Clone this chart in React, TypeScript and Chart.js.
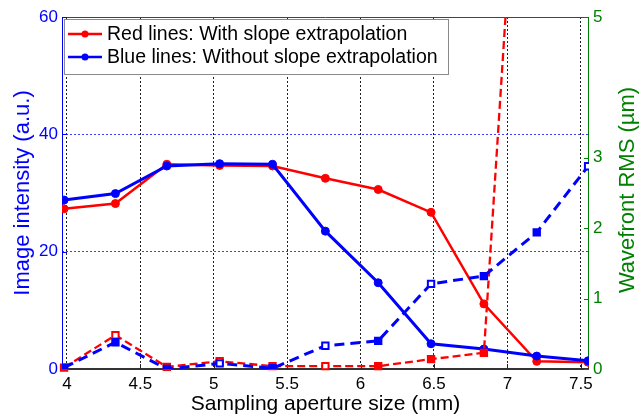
import React, { useEffect, useRef } from "react";
import { Chart, registerables } from "chart.js";

Chart.register(...registerables);

// Sampling aperture size (mm)
const apertureSizes = [3.98, 4.33, 4.68, 5.04, 5.4, 5.76, 6.12, 6.48, 6.84, 7.2, 7.55];
// Image intensity (a.u.) — left axis
const intensityWithSlope = [27.3, 28.2, 34.9, 34.7, 34.6, 32.5, 30.6, 26.7, 11.1, 1.3, 1.15];
const intensityWithoutSlope = [28.8, 29.9, 34.6, 35.0, 34.9, 23.5, 14.7, 4.3, 3.4, 2.2, 1.4];
// Wavefront RMS (µm) — right axis
const rmsWithSlope = [0.02, 0.48, 0.03, 0.11, 0.04, 0.04, 0.04, 0.14, 0.23, 11.9, 13.0];
const rmsWithoutSlope = [0.02, 0.38, 0.0, 0.08, 0.01, 0.33, 0.4, 1.21, 1.32, 1.94, 2.88];

const xTicks = [4, 4.5, 5, 5.5, 6, 6.5, 7, 7.5];
const leftTicks = [0, 20, 40, 60];
const rightTicks = [0, 1, 2, 3, 5];

const legendLabels = [
  "Red lines: With slope extrapolation",
  "Blue lines: Without slope extrapolation",
];

const RED = "#ff0000";
const BLUE = "#0000ff";
const GREEN = "#008000";
const FONT = '"Liberation Sans", Arial, sans-serif';

const toPoints = (ys: number[]) => apertureSizes.map((x, i) => ({ x, y: ys[i] }));

const axesPlugin = {
  id: "axesLines",
  beforeDatasetsDraw(chart: any) {
    const { ctx, chartArea: a, scales } = chart;
    ctx.save();
    ctx.setLineDash([]);
    const L = Math.round(a.left) + 0.5;
    const R = Math.round(a.right) - 0.5;
    const T = Math.round(a.top) + 0.5;
    const B = Math.round(a.bottom);
    // top border
    ctx.strokeStyle = "#444";
    ctx.lineWidth = 1;
    ctx.beginPath();
    ctx.moveTo(L, T);
    ctx.lineTo(R, T);
    ctx.stroke();
    // left axis
    ctx.strokeStyle = BLUE;
    ctx.beginPath();
    ctx.moveTo(L, a.top);
    ctx.lineTo(L, a.bottom);
    ctx.stroke();
    // right axis
    ctx.strokeStyle = GREEN;
    ctx.beginPath();
    ctx.moveTo(R, a.top);
    ctx.lineTo(R, a.bottom + 1);
    ctx.stroke();
    // bottom axis
    ctx.strokeStyle = "#333";
    ctx.lineWidth = 2;
    ctx.beginPath();
    ctx.moveTo(a.left, B);
    ctx.lineTo(a.right, B);
    ctx.stroke();

    // inward tick marks
    const tickLen = 5;
    ctx.lineWidth = 1;
    ctx.strokeStyle = BLUE;
    for (const v of leftTicks) {
      const y = Math.round(scales.y.getPixelForValue(v)) + 0.5;
      ctx.beginPath();
      ctx.moveTo(a.left, y);
      ctx.lineTo(a.left + tickLen, y);
      ctx.stroke();
    }
    ctx.strokeStyle = GREEN;
    for (const v of rightTicks) {
      const y = Math.round(scales.y1.getPixelForValue(v)) + 0.5;
      ctx.beginPath();
      ctx.moveTo(a.right, y);
      ctx.lineTo(a.right - tickLen, y);
      ctx.stroke();
    }
    ctx.strokeStyle = "#222";
    for (const v of xTicks) {
      const x = Math.round(scales.x.getPixelForValue(v)) + 0.5;
      ctx.beginPath();
      ctx.moveTo(x, a.bottom);
      ctx.lineTo(x, a.bottom - tickLen);
      ctx.stroke();
    }
    ctx.restore();
  },
};

const decorPlugin = {
  id: "decor",
  afterDraw(chart: any) {
    const { ctx } = chart;
    ctx.save();
    ctx.setLineDash([]);
    // legend box
    const lx = 64, ly = 19, lw = 384, lh = 55;
    ctx.fillStyle = "#ffffff";
    ctx.fillRect(lx, ly, lw, lh);
    ctx.strokeStyle = "#8a8a8a";
    ctx.lineWidth = 1;
    ctx.strokeRect(lx + 0.5, ly + 0.5, lw, lh);
    const colors = [RED, BLUE];
    const rows = [34, 57];
    ctx.font = `19.5px ${FONT}`;
    ctx.textAlign = "left";
    ctx.textBaseline = "middle";
    for (let i = 0; i < 2; i++) {
      const y = rows[i];
      ctx.strokeStyle = colors[i];
      ctx.lineWidth = 2.5;
      ctx.beginPath();
      ctx.moveTo(68, y);
      ctx.lineTo(102, y);
      ctx.stroke();
      ctx.fillStyle = colors[i];
      ctx.beginPath();
      ctx.arc(85, y, 3.5, 0, Math.PI * 2);
      ctx.fill();
      ctx.fillStyle = "#000";
      ctx.fillText(legendLabels[i], 107, y + 1);
    }

    // right axis title (reads bottom to top)
    ctx.translate(628, 190);
    ctx.rotate(-Math.PI / 2);
    ctx.font = `22px ${FONT}`;
    ctx.fillStyle = GREEN;
    ctx.textAlign = "center";
    ctx.textBaseline = "middle";
    ctx.fillText("Wavefront RMS (µm)", 0, 0);
    ctx.restore();
  },
};

export default function App() {
  const canvasRef = useRef<HTMLCanvasElement | null>(null);

  useEffect(() => {
    if (!canvasRef.current) return;
    const chart = new Chart(canvasRef.current, {
      type: "line",
      data: {
        datasets: [
          {
            label: "RMS without slope extrapolation",
            data: toPoints(rmsWithoutSlope),
            yAxisID: "y1",
            borderColor: BLUE,
            borderWidth: 3,
            borderDash: [10, 6],
            pointStyle: "rect",
            pointRadius: 4.5,
            pointBorderWidth: 2,
            pointBorderColor: BLUE,
            pointBackgroundColor: [BLUE, BLUE, BLUE, "#fff", BLUE, "#fff", BLUE, "#fff", BLUE, BLUE, "#fff"],
            tension: 0,
          },
          {
            label: "RMS with slope extrapolation",
            data: toPoints(rmsWithSlope),
            yAxisID: "y1",
            borderColor: RED,
            borderWidth: 2.3,
            borderDash: [8, 4],
            pointStyle: "rect",
            pointRadius: 4.5,
            pointBorderWidth: 2,
            pointBorderColor: RED,
            pointBackgroundColor: [RED, "#fff", RED, "#fff", RED, "#fff", RED, RED, RED, RED, RED],
            tension: 0,
            clip: { left: 10, right: 10, top: 0, bottom: 10 },
          },
          {
            label: "Intensity without slope extrapolation",
            data: toPoints(intensityWithoutSlope),
            yAxisID: "y",
            borderColor: BLUE,
            borderWidth: 3,
            pointStyle: "circle",
            pointRadius: 4,
            pointBorderWidth: 1,
            pointBorderColor: BLUE,
            pointBackgroundColor: BLUE,
            tension: 0,
          },
          {
            label: "Intensity with slope extrapolation",
            data: toPoints(intensityWithSlope),
            yAxisID: "y",
            borderColor: RED,
            borderWidth: 2.5,
            pointStyle: "circle",
            pointRadius: 4,
            pointBorderWidth: 1,
            pointBorderColor: RED,
            pointBackgroundColor: RED,
            tension: 0,
          },
        ],
      },
      options: {
        animation: false,
        responsive: false,
        maintainAspectRatio: false,
        layout: { padding: { top: 17, left: 0, right: 0, bottom: 0 } },
        plugins: {
          legend: { display: false },
          tooltip: { enabled: false },
        },
        scales: {
          x: {
            type: "linear",
            position: "bottom",
            min: 3.966,
            max: 7.556,
            afterBuildTicks: (scale: any) => {
              scale.ticks = xTicks.map((v) => ({ value: v }));
            },
            afterFit: (scale: any) => {
              scale.height = 48;
            },
            ticks: {
              autoSkip: false,
              maxRotation: 0,
              padding: 5,
              color: "#000",
              font: { family: FONT, size: 17 },
              callback: (v: any) => String(v),
            },
            grid: {
              display: true,
              drawTicks: false,
              color: "#222",
              lineWidth: 1,
            },
            border: { display: false, color: "#333", width: 2, dash: [2, 2] },
            title: {
              display: true,
              text: "Sampling aperture size (mm)",
              color: "#000",
              font: { family: FONT, size: 21 },
              padding: { top: 0, bottom: 0 },
            },
          },
          y: {
            type: "linear",
            position: "left",
            min: 0,
            max: 60,
            afterBuildTicks: (scale: any) => {
              scale.ticks = leftTicks.map((v) => ({ value: v }));
            },
            afterFit: (scale: any) => {
              scale.width = 62;
            },
            ticks: {
              autoSkip: false,
              padding: 4,
              color: BLUE,
              font: { family: FONT, size: 17 },
              callback: (v: any) => String(v),
            },
            grid: {
              display: true,
              drawTicks: false,
              lineWidth: 1,
              color: (c: any) =>
                c.tick && (c.tick.value === 20 || c.tick.value === 40)
                  ? "rgba(40,40,255,0.9)"
                  : "rgba(0,0,0,0)",
            },
            border: { display: false, color: BLUE, width: 1, dash: [2, 2] },
            title: {
              display: true,
              text: "Image intensity (a.u.)",
              color: BLUE,
              font: { family: FONT, size: 22 },
              padding: { top: 10, bottom: 0 },
            },
          },
          y1: {
            type: "linear",
            position: "right",
            min: 0,
            max: 5,
            afterBuildTicks: (scale: any) => {
              scale.ticks = rightTicks.map((v) => ({ value: v }));
            },
            afterFit: (scale: any) => {
              scale.width = 50;
            },
            ticks: {
              autoSkip: false,
              padding: 4,
              color: GREEN,
              font: { family: FONT, size: 17 },
              callback: (v: any) => String(v),
            },
            grid: { display: false, drawTicks: false },
            border: { display: false, color: GREEN, width: 1 },
          },
        },
      },
      plugins: [axesPlugin, decorPlugin],
    } as any);
    return () => chart.destroy();
  }, []);

  return (
    <div style={{ position: "fixed", left: 0, top: 0, width: 639, height: 417, background: "#fff" }}>
      <canvas ref={canvasRef} width={639} height={417} style={{ display: "block" }} />
    </div>
  );
}
